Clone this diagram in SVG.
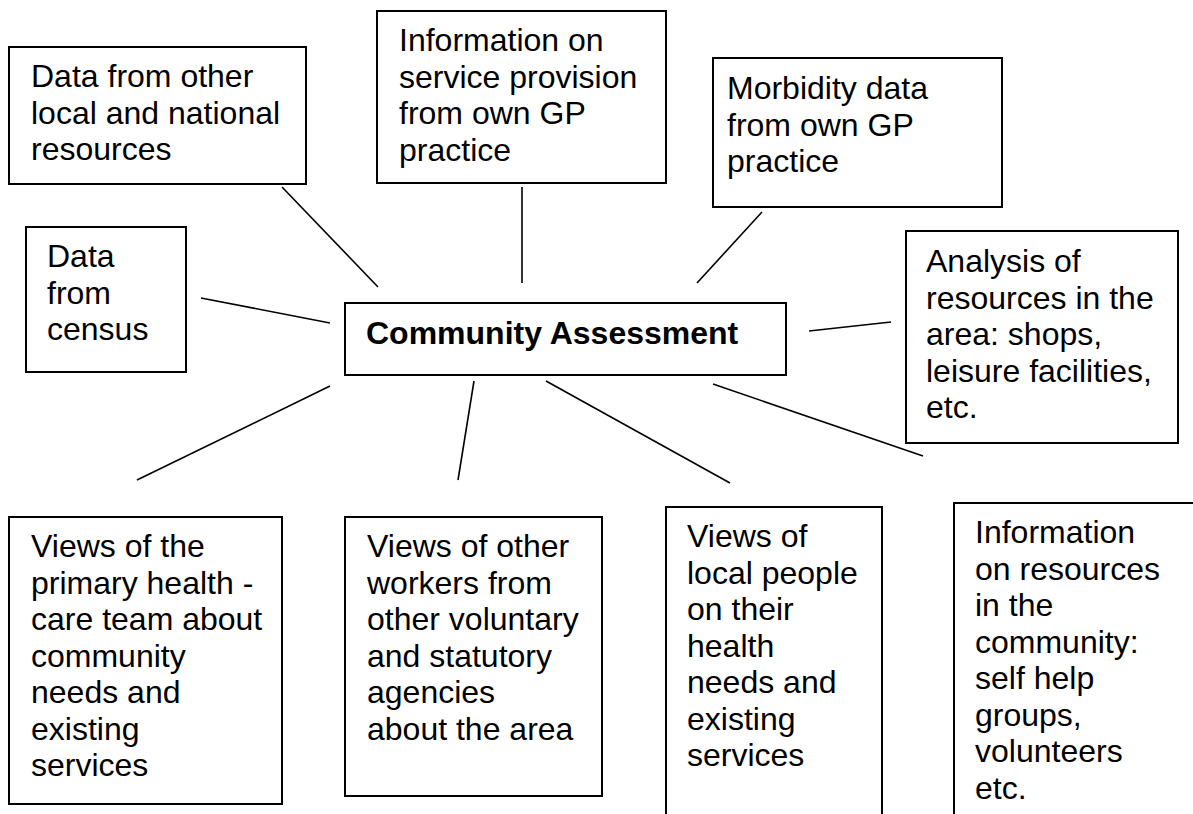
<svg xmlns="http://www.w3.org/2000/svg" width="1193" height="814" viewBox="0 0 1193 814">
  <style>
    .box { fill: #ffffff; stroke: #000000; stroke-width: 2; }
    .label { font-family: "Liberation Sans", Arial, sans-serif; font-size: 32px; fill: #000000; }
    .title { font-family: "Liberation Sans", Arial, sans-serif; font-size: 32px; font-weight: bold; fill: #000000; }
    .link { stroke: #000000; stroke-width: 1.6; fill: none; }
  </style>
  <rect x="0" y="0" width="1193" height="814" fill="#ffffff"/>

  <!-- spokes from the centre -->
  <g id="connectors">
    <line class="link" x1="282" y1="187" x2="378" y2="287"/>
    <line class="link" x1="201" y1="298" x2="330" y2="323"/>
    <line class="link" x1="522" y1="187" x2="522" y2="283"/>
    <line class="link" x1="762" y1="212" x2="697" y2="283"/>
    <line class="link" x1="809" y1="331" x2="891" y2="322"/>
    <line class="link" x1="330" y1="386" x2="137" y2="480"/>
    <line class="link" x1="474" y1="381" x2="458" y2="480"/>
    <line class="link" x1="546" y1="381" x2="730" y2="483"/>
    <line class="link" x1="713" y1="384" x2="923" y2="456"/>
  </g>

  <g id="node-local-national">
    <rect class="box" x="9" y="47" width="297" height="137"/>
    <text class="label" x="31" y="87">Data from other</text>
    <text class="label" x="31" y="123.5">local and national</text>
    <text class="label" x="31" y="160">resources</text>
  </g>

  <g id="node-census">
    <rect class="box" x="26" y="227" width="160" height="145"/>
    <text class="label" x="47" y="267">Data</text>
    <text class="label" x="47" y="303.5">from</text>
    <text class="label" x="47" y="340">census</text>
  </g>

  <g id="node-service-provision">
    <rect class="box" x="377" y="11" width="289" height="172"/>
    <text class="label" x="399" y="51">Information on</text>
    <text class="label" x="399" y="87.5">service provision</text>
    <text class="label" x="399" y="124">from own GP</text>
    <text class="label" x="399" y="160.5">practice</text>
  </g>

  <g id="node-morbidity">
    <rect class="box" x="713" y="58" width="289" height="149"/>
    <text class="label" x="727" y="99">Morbidity data</text>
    <text class="label" x="727" y="135.5">from own GP</text>
    <text class="label" x="727" y="172">practice</text>
  </g>

  <g id="node-community-assessment">
    <rect class="box" x="345" y="303" width="441" height="72"/>
    <text class="title" x="366" y="344">Community Assessment</text>
  </g>

  <g id="node-area-resources">
    <rect class="box" x="906" y="231" width="272" height="212"/>
    <text class="label" x="926" y="272">Analysis of</text>
    <text class="label" x="926" y="308.5">resources in the</text>
    <text class="label" x="926" y="345">area: shops,</text>
    <text class="label" x="926" y="381.5">leisure facilities,</text>
    <text class="label" x="926" y="418">etc.</text>
  </g>

  <g id="node-primary-care">
    <rect class="box" x="9" y="517" width="273" height="287"/>
    <text class="label" x="31" y="557">Views of the</text>
    <text class="label" x="31" y="593.5">primary health -</text>
    <text class="label" x="31" y="630">care team about</text>
    <text class="label" x="31" y="666.5">community</text>
    <text class="label" x="31" y="703">needs and</text>
    <text class="label" x="31" y="739.5">existing</text>
    <text class="label" x="31" y="776">services</text>
  </g>

  <g id="node-other-workers">
    <rect class="box" x="345" y="517" width="257" height="279"/>
    <text class="label" x="367" y="557">Views of other</text>
    <text class="label" x="367" y="593.5">workers from</text>
    <text class="label" x="367" y="630">other voluntary</text>
    <text class="label" x="367" y="666.5">and statutory</text>
    <text class="label" x="367" y="703">agencies</text>
    <text class="label" x="367" y="739.5">about the area</text>
  </g>

  <g id="node-local-people">
    <rect class="box" x="666" y="507" width="216" height="320"/>
    <text class="label" x="687" y="547">Views of</text>
    <text class="label" x="687" y="583.5">local people</text>
    <text class="label" x="687" y="620">on their</text>
    <text class="label" x="687" y="656.5">health</text>
    <text class="label" x="687" y="693">needs and</text>
    <text class="label" x="687" y="729.5">existing</text>
    <text class="label" x="687" y="766">services</text>
  </g>

  <g id="node-community-resources">
    <rect class="box" x="954" y="503" width="260" height="330"/>
    <text class="label" x="975" y="543">Information</text>
    <text class="label" x="975" y="579.5">on resources</text>
    <text class="label" x="975" y="616">in the</text>
    <text class="label" x="975" y="652.5">community:</text>
    <text class="label" x="975" y="689">self help</text>
    <text class="label" x="975" y="725.5">groups,</text>
    <text class="label" x="975" y="762">volunteers</text>
    <text class="label" x="975" y="798.5">etc.</text>
  </g>
</svg>
